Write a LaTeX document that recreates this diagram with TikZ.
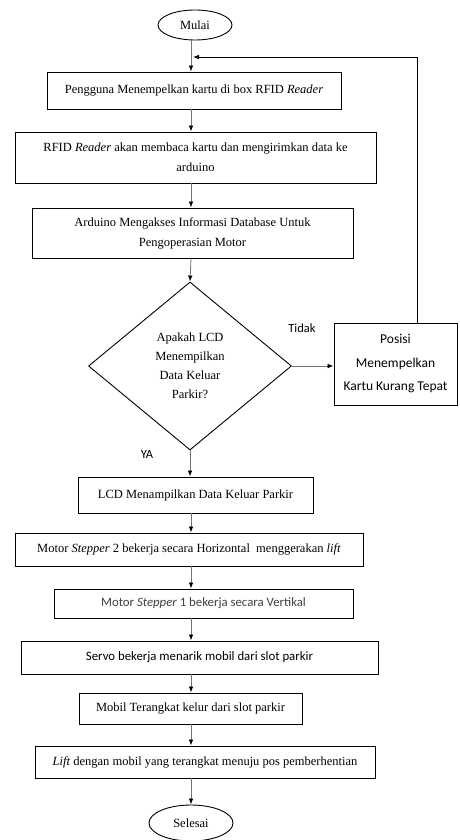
\documentclass[tikz,border=0pt]{standalone}
\usepackage{fontspec}
\setmainfont{Liberation Serif}
\newfontfamily\calibrifont{Carlito}
\usetikzlibrary{shapes.geometric,arrows.meta}

\begin{document}
\begin{tikzpicture}[x=1pt,y=-1pt,
    box/.style={draw, line width=0.9pt, align=center, inner sep=0pt,
      font=\fontsize{12.5}{20}\selectfont},
    sansbox/.style={box, font=\calibrifont\fontsize{12.8}{23.5}\selectfont},
    decision/.style={draw, line width=0.9pt, diamond, inner sep=0pt, align=center,
      font=\fontsize{12.5}{19}\selectfont},
    terminal/.style={draw, line width=0.9pt, ellipse, inner sep=0pt,
      font=\fontsize{12.5}{14}\selectfont},
    lbl/.style={font=\calibrifont\fontsize{12.5}{14}\selectfont},
    arr/.style={draw=black!55, line width=0.8pt, -{Latex[black,length=6pt,width=4.5pt]}}]

    \useasboundingbox (0,0) rectangle (460,840);

    % terminals
    \node[terminal, minimum width=74, minimum height=30] (mulai) at (195,25) {Mulai};
    \node[terminal, minimum width=84, minimum height=36] (selesai) at (191,823) {Selesai};

    % process steps
    \node[box, minimum width=294, minimum height=37] (tempel) at (194,90.5)
        {Pengguna Menempelkan kartu di box RFID \textit{Reader}};
    \node[box, minimum width=361, minimum height=51] (baca) at (195.5,157.5)
        {RFID \textit{Reader} akan membaca kartu dan mengirimkan data ke\\arduino};
    \node[box, minimum width=321, minimum height=50] (akses) at (192.5,233)
        {Arduino Mengakses Informasi Database Untuk\\Pengoperasian Motor};
    \node[decision, minimum width=203, minimum height=168] (cek) at (190,366)
        {Apakah LCD\\Menempilkan\\Data Keluar\\Parkir?};
    \node[sansbox, minimum width=123, minimum height=82,
        font=\calibrifont\fontsize{13.5}{23.5}\selectfont] (posisi) at (395.5,364)
        {Posisi\\Menempelkan\\Kartu Kurang Tepat};
    \node[box, minimum width=235, minimum height=36] (lcd) at (195.5,495)
        {LCD Menampilkan Data Keluar Parkir};
    \node[box, minimum width=348, minimum height=33] (stepdua) at (189,549.5)
        {Motor \textit{Stepper} 2 bekerja secara Horizontal\ \ menggerakan \textit{lift}};
    \node[sansbox, minimum width=299, minimum height=29, text=black!75] (stepsatu) at (203.5,603.5)
        {Motor \textit{Stepper} 1 bekerja secara Vertikal};
    \node[sansbox, minimum width=357, minimum height=33] (servo) at (199.5,657.5)
        {Servo bekerja menarik mobil dari slot parkir};
    \node[box, minimum width=223, minimum height=31] (angkat) at (190.5,708.5)
        {Mobil Terangkat kelur dari slot parkir};
    \node[box, minimum width=340, minimum height=32] (lift) at (205,762)
        {\textit{Lift} dengan mobil yang terangkat menuju pos pemberhentian};

    % labels
    \node[lbl] (tidak) at (302,328) {Tidak};
    \node[lbl] (ya) at (147,454) {YA};

    % connectors
    \coordinate (spine) at (191,0);
    \coordinate (loopin) at (193,57);
    \coordinate (looptop) at (417,57);
    \draw[arr] (mulai.south -| spine) -- (tempel.north -| spine);
    \draw[arr] (tempel.south -| spine) -- (baca.north -| spine);
    \draw[arr] (baca.south -| spine) -- (akses.north -| spine);
    \draw[arr] (akses.south -| spine) -- (cek.north);
    \draw[arr] (cek.east) -- (cek.east -| posisi.west);
    \draw[arr, draw=black] (posisi.north -| looptop) -- (looptop) -- (loopin);
    \draw[arr] (cek.south) -- (lcd.north -| cek.south);
    \draw[arr] (lcd.south -| spine) -- (stepdua.north -| spine);
    \draw[arr] (stepdua.south -| spine) -- (stepsatu.north -| spine);
    \draw[arr] (stepsatu.south -| spine) -- (servo.north -| spine);
    \draw[arr] (servo.south -| spine) -- (angkat.north -| spine);
    \draw[arr] (angkat.south -| spine) -- (lift.north -| spine);
    \draw[arr] (lift.south -| spine) -- (selesai.north);
\end{tikzpicture}
\end{document}
